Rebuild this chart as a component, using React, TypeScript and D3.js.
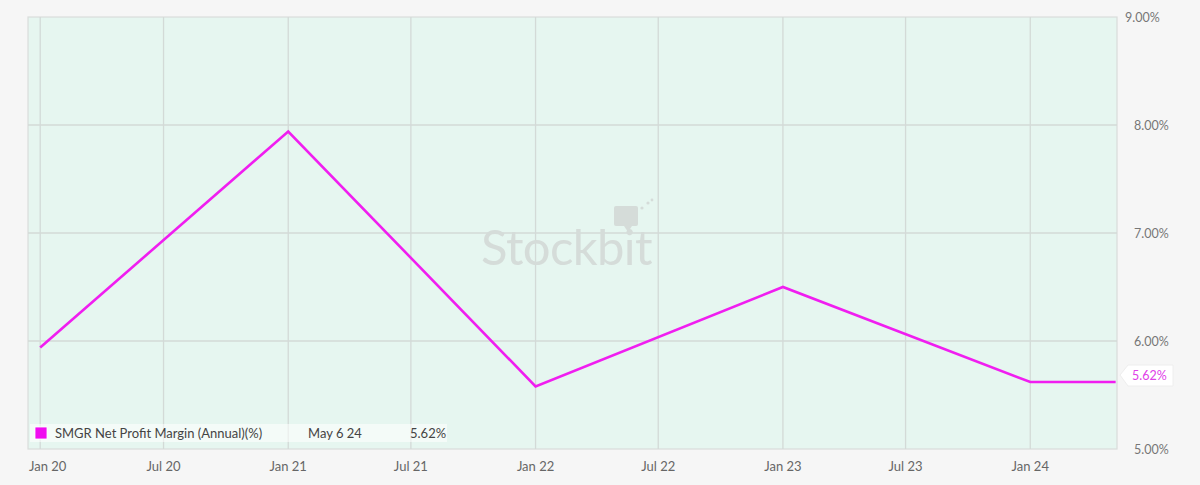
import React from "react";
import * as d3 from "d3";

const dates = ["2020-01-01", "2021-01-01", "2022-01-01", "2023-01-01", "2024-01-01", "2024-05-06"];
const values = [5.94, 7.94, 5.58, 6.5, 5.62, 5.62];
const yTicks = [5, 6, 7, 8, 9];
const xTickDates = ["2020-01-01", "2020-07-01", "2021-01-01", "2021-07-01", "2022-01-01", "2022-07-01", "2023-01-01", "2023-07-01", "2024-01-01"];
const xTickLabels = ["Jan 20", "Jul 20", "Jan 21", "Jul 21", "Jan 22", "Jul 22", "Jan 23", "Jul 23", "Jan 24"];
const seriesName = "SMGR Net Profit Margin (Annual)(%)";
const lastDateLabel = "May 6 24";
const lastValueLabel = "5.62%";

const W = 1200, H = 485;
const L = 28, R = 1117, T = 17, B = 449;
const parse = d3.utcParse("%Y-%m-%d");

export default function App() {
  const x = d3.scaleUtc().domain([parse("2019-12-14")!, parse("2024-05-08")!]).range([L, R]);
  const y = d3.scaleLinear().domain([5, 9]).range([B, T]);
  const pts = dates.map((d, i) => [x(parse(d)!), y(values[i])] as [number, number]);
  const line = d3.line()(pts) || "";
  const font = "Lato, 'Open Sans', sans-serif";
  const lastY = y(values[values.length - 1]);
  const lblY = lastY - 7;
  return (
    <svg width={W} height={H} style={{ position: "absolute", left: 0, top: 0, display: "block" }} fontFamily={font}>
      <rect x={0} y={0} width={W} height={H} fill="#f6f6f6" />
      <rect x={L} y={T} width={R - L} height={B - T} fill="#e6f6f0" stroke="#d9dddb" strokeWidth={1.2} />
      {xTickDates.map((d) => (
        <line key={d} x1={x(parse(d)!)} x2={x(parse(d)!)} y1={T} y2={B} stroke="#d3dad7" strokeWidth={1.3} />
      ))}
      {yTicks.slice(1, -1).map((v) => (
        <line key={v} x1={L} x2={R} y1={y(v)} y2={y(v)} stroke="#d3dad7" strokeWidth={1.3} />
      ))}
      {/* watermark */}
      <g>
        <text x={481} y={265} fontSize={49} fill="#d5dcd9" fontFamily={font} letterSpacing={-0.6}>Stockbit</text>
        <rect x={614} y={206} width={24} height={20} rx={2} fill="#d5dcd9" />
        <path d={`M${624},${226} l4,6 l4,-6 z`} fill="#d5dcd9" />
        <circle cx={642} cy={208} r={1.6} fill="#d5dcd9" />
        <circle cx={648} cy={203} r={1.6} fill="#d5dcd9" />
        <circle cx={652} cy={200} r={1.4} fill="#d5dcd9" />
      </g>
      <path d={line} fill="none" stroke="#f01ef0" strokeWidth={2.6} strokeLinejoin="miter" />
      {/* legend */}
      <rect x={30} y={424} width={417} height={18} fill="#ffffff" opacity={0.55} />
      <rect x={35} y={427} width={12} height={12} fill="#f00cf0" stroke="#ffffff" strokeWidth={0.8} />
      <text x={55} y={437.5} fontSize={13} fill="#444">{seriesName}</text>
      <text x={308} y={437.5} fontSize={13} fill="#444">{lastDateLabel}</text>
      <text x={410} y={437.5} fontSize={13} fill="#444">{lastValueLabel}</text>
      {/* y axis labels */}
      {yTicks.map((v, i) => (
        <text key={v} x={i === yTicks.length - 1 ? 1125 : 1134} y={y(v) + 4.5} fontSize={12.5} fill="#777">
          {d3.format(".2f")(v) + "%"}
        </text>
      ))}
      {/* last value label */}
      <path d={`M1120,${lblY} L1128,${lblY - 10} L1173,${lblY - 10} L1173,${lblY + 11} L1128,${lblY + 11} Z`} fill="#ffffff" stroke="#eeeeee" />
      <text x={1132} y={lblY + 4.5} fontSize={12.5} fill="#e040e8">{lastValueLabel}</text>
      {/* x axis labels */}
      {xTickDates.map((d, i) => (
        <text key={d} x={i === 0 ? 29 : x(parse(d)!)} y={471} fontSize={13} fill="#666" textAnchor={i === 0 ? "start" : "middle"}>
          {xTickLabels[i]}
        </text>
      ))}
    </svg>
  );
}
